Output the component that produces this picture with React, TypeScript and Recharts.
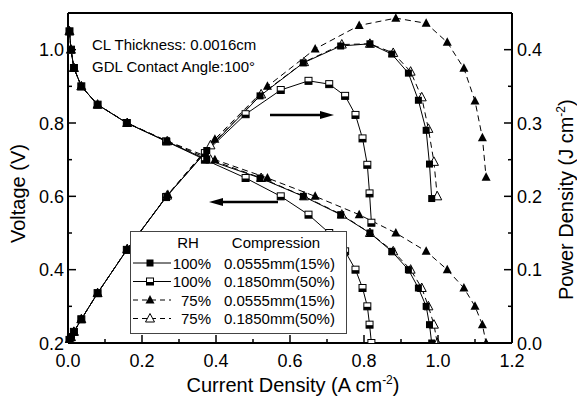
import { LineChart, Line, XAxis, YAxis, ReferenceLine } from 'recharts';

// fuel cell polarization + power curves
const voltages = [1.05, 1.0, 0.95, 0.9, 0.85, 0.8, 0.75, 0.7, 0.65, 0.6, 0.55, 0.5, 0.45, 0.4, 0.35, 0.3, 0.25, 0.2];

const currentA = [0.004, 0.008, 0.016, 0.036, 0.08, 0.159, 0.267, 0.375, 0.519, 0.636, 0.737, 0.816, 0.875, 0.92, 0.947, 0.968, 0.977, 0.983];
const currentB = [0.004, 0.008, 0.016, 0.036, 0.08, 0.159, 0.265, 0.37, 0.48, 0.575, 0.65, 0.706, 0.749, 0.777, 0.796, 0.809, 0.815, 0.82];
const currentC = [0.004, 0.008, 0.016, 0.036, 0.08, 0.16, 0.27, 0.397, 0.539, 0.668, 0.787, 0.886, 0.968, 1.025, 1.07, 1.1, 1.12, 1.13];
const currentD = [0.004, 0.008, 0.016, 0.036, 0.08, 0.16, 0.268, 0.385, 0.522, 0.638, 0.74, 0.816, 0.879, 0.926, 0.956, 0.974, 0.989, 0.998];

const powerA = [0.0042, 0.008, 0.0152, 0.0324, 0.068, 0.127, 0.2, 0.2625, 0.337, 0.382, 0.405, 0.408, 0.394, 0.368, 0.331, 0.29, 0.244, 0.197];
const powerB = [0.0042, 0.008, 0.0152, 0.0324, 0.068, 0.127, 0.199, 0.259, 0.312, 0.345, 0.3575, 0.353, 0.337, 0.311, 0.279, 0.243, 0.204, 0.164];
const powerC = [0.0042, 0.008, 0.0152, 0.0324, 0.068, 0.128, 0.2025, 0.278, 0.35, 0.401, 0.433, 0.443, 0.436, 0.41, 0.3745, 0.33, 0.28, 0.226];
const powerD = [0.0042, 0.008, 0.0152, 0.0324, 0.068, 0.128, 0.201, 0.2695, 0.339, 0.383, 0.407, 0.408, 0.3955, 0.37, 0.335, 0.292, 0.247, 0.2];

const xTicks = [0, 0.1, 0.2, 0.3, 0.4, 0.5, 0.6, 0.7, 0.8, 0.9, 1.0, 1.1, 1.2];
const vTicks = [0.2, 0.3, 0.4, 0.5, 0.6, 0.7, 0.8, 0.9, 1.0];
const pTicks = [0, 0.05, 0.1, 0.15, 0.2, 0.25, 0.3, 0.35, 0.4];

const legendRows = [
  { rh: '100%', comp: '0.0555mm(15%)', marker: 'sq', dashed: false },
  { rh: '100%', comp: '0.1850mm(50%)', marker: 'half', dashed: false },
  { rh: '75%', comp: '0.0555mm(15%)', marker: 'tri', dashed: true },
  { rh: '75%', comp: '0.1850mm(50%)', marker: 'otri', dashed: true },
];

const build = (cur: number[], pow: number[]) =>
  cur.map((i, k) => ({ i, v: voltages[k], p: pow[k] }));

const dataA = build(currentA, powerA);
const dataB = build(currentB, powerB);
const dataC = build(currentC, powerC);
const dataD = build(currentD, powerD);

const FONT = '"Liberation Sans", Arial, sans-serif';

function Marker({ kind, cx, cy }: { kind: string; cx: number; cy: number }) {
  if (cx == null || cy == null) return null;
  if (kind === 'sq')
    return <rect x={cx - 3.5} y={cy - 3.5} width={7} height={7} fill="#000" />;
  if (kind === 'half')
    return (
      <g>
        <rect x={cx - 3.5} y={cy - 3.5} width={7} height={7} fill="#fff" stroke="#000" strokeWidth={1} />
        <rect x={cx - 3.5} y={cy + 0.5} width={7} height={3} fill="#000" />
      </g>
    );
  const pts = `${cx},${cy - 5} ${cx - 4.5},${cy + 3.5} ${cx + 4.5},${cy + 3.5}`;
  if (kind === 'tri') return <polygon points={pts} fill="#000" />;
  return <polygon points={pts} fill="#fff" stroke="#000" strokeWidth={1} />;
}

const dot = (kind: string) => (props: any) =>
  <Marker key={`${kind}-${props.index}`} kind={kind} cx={props.cx} cy={props.cy} />;

const XTick = ({ x, y, payload }: any) => {
  const major = Math.round(payload.value * 10) % 2 === 0;
  return (
    <g>
      <line x1={x} x2={x} y1={y} y2={y - (major ? 8 : 4)} stroke="#000" strokeWidth={1.5} />
      {major && (
        <text x={x} y={y + 24} textAnchor="middle" fontSize={18} fontFamily={FONT} fill="#000">
          {payload.value.toFixed(1)}
        </text>
      )}
    </g>
  );
};

const VTick = ({ x, y, payload }: any) => {
  const major = Math.round(payload.value * 10) % 2 === 0;
  return (
    <g>
      <line x1={x} x2={x + (major ? 8 : 4)} y1={y} y2={y} stroke="#000" strokeWidth={1.5} />
      {major && (
        <text x={x - 4} y={y + 6.5} textAnchor="end" fontSize={18} fontFamily={FONT} fill="#000">
          {payload.value.toFixed(1)}
        </text>
      )}
    </g>
  );
};

const PTick = ({ x, y, payload }: any) => {
  const major = Math.round(payload.value * 100) % 10 === 0;
  return (
    <g>
      <line x1={x} x2={x - (major ? 8 : 4)} y1={y} y2={y} stroke="#000" strokeWidth={1.5} />
      {major && (
        <text x={x + 5} y={y + 6.5} textAnchor="start" fontSize={18} fontFamily={FONT} fill="#000">
          {payload.value.toFixed(1)}
        </text>
      )}
    </g>
  );
};

function Overlay() {
  return (
    <svg width={577} height={397} style={{ position: 'absolute', left: 0, top: 0, pointerEvents: 'none' }}>
      <g fontFamily={FONT} fill="#000">
        <text x={92} y={49.5} fontSize={15}>CL Thickness: 0.0016cm</text>
        <text x={92} y={71.5} fontSize={15}>GDL Contact Angle:100°</text>

        <text x={293} y={392} fontSize={20} textAnchor="middle">
          Current Density (A cm<tspan dy={-8} fontSize={12}>-2</tspan><tspan dy={8}>)</tspan>
        </text>
        <text transform="translate(25,243) rotate(-90)" fontSize={20}>Voltage (V)</text>
        <text transform="translate(573,300) rotate(-90)" fontSize={20}>
          Power Density (J cm<tspan dy={-8} fontSize={12}>-2</tspan><tspan dy={8}>)</tspan>
        </text>
      </g>

      {/* arrows */}
      <line x1={270} y1={115} x2={322} y2={115} stroke="#000" strokeWidth={2.5} />
      <polygon points="334,115 320,111 320,119" fill="#000" />
      <line x1={278} y1={202} x2={221} y2={202} stroke="#000" strokeWidth={2.5} />
      <polygon points="209,202 223,198 223,206" fill="#000" />

      {/* legend */}
      <rect x={130.5} y={231.5} width={216} height={102} fill="#fff" stroke="#444" strokeWidth={1} />
      <g fontFamily={FONT} fontSize={15} fill="#000">
        <text x={188} y={248} textAnchor="middle">RH</text>
        <text x={276} y={248} textAnchor="middle">Compression</text>
        {legendRows.map((r, k) => {
          const cy = 263 + k * 18.5;
          return (
            <g key={k}>
              <line x1={133} x2={171} y1={cy} y2={cy} stroke="#000" strokeWidth={1}
                strokeDasharray={r.dashed ? '5 4' : undefined} />
              <Marker kind={r.marker} cx={150} cy={cy} />
              <text x={211} y={cy + 5.5} textAnchor="end">{r.rh}</text>
              <text x={224} y={cy + 5.5}>{r.comp}</text>
            </g>
          );
        })}
      </g>
    </svg>
  );
}

export default function App() {
  return (
    <div style={{ position: 'absolute', left: 0, top: 0, width: 577, height: 397, background: '#fff' }}>
      <LineChart width={577} height={397} margin={{ top: 13, right: 0, bottom: 24, left: 0 }}>
        <XAxis type="number" dataKey="i" domain={[0, 1.2]} ticks={xTicks} interval={0}
          height={30} tickSize={0} tickMargin={0} tickLine={false} tick={<XTick />}
          axisLine={{ stroke: '#000', strokeWidth: 2 }} allowDuplicatedCategory={false} />
        <YAxis yAxisId="left" domain={[0.2, 1.1]} ticks={vTicks} interval={0} width={68}
          tickSize={0} tickMargin={0} tickLine={false} tick={<VTick />}
          axisLine={{ stroke: '#000', strokeWidth: 2 }} allowDataOverflow />
        <YAxis yAxisId="right" orientation="right" domain={[0, 0.45]} ticks={pTicks} interval={0} width={65}
          tickSize={0} tickMargin={0} tickLine={false} tick={<PTick />}
          axisLine={{ stroke: '#000', strokeWidth: 2 }} allowDataOverflow />
        <ReferenceLine yAxisId="left" y={1.1} stroke="#000" strokeWidth={2} />

        <Line data={dataB} dataKey="v" yAxisId="left" type="linear" stroke="#000" strokeWidth={1} dot={dot('half')} isAnimationActive={false} />
        <Line data={dataB} dataKey="p" yAxisId="right" type="linear" stroke="#000" strokeWidth={1} dot={dot('half')} isAnimationActive={false} />
        <Line data={dataD} dataKey="v" yAxisId="left" type="linear" stroke="#000" strokeWidth={1} strokeDasharray="6 4" dot={dot('otri')} isAnimationActive={false} />
        <Line data={dataD} dataKey="p" yAxisId="right" type="linear" stroke="#000" strokeWidth={1} strokeDasharray="6 4" dot={dot('otri')} isAnimationActive={false} />
        <Line data={dataC} dataKey="v" yAxisId="left" type="linear" stroke="#000" strokeWidth={1} strokeDasharray="6 4" dot={dot('tri')} isAnimationActive={false} />
        <Line data={dataC} dataKey="p" yAxisId="right" type="linear" stroke="#000" strokeWidth={1} strokeDasharray="6 4" dot={dot('tri')} isAnimationActive={false} />
        <Line data={dataA} dataKey="v" yAxisId="left" type="linear" stroke="#000" strokeWidth={1} dot={dot('sq')} isAnimationActive={false} />
        <Line data={dataA} dataKey="p" yAxisId="right" type="linear" stroke="#000" strokeWidth={1} dot={dot('sq')} isAnimationActive={false} />
      </LineChart>
      <Overlay />
    </div>
  );
}
